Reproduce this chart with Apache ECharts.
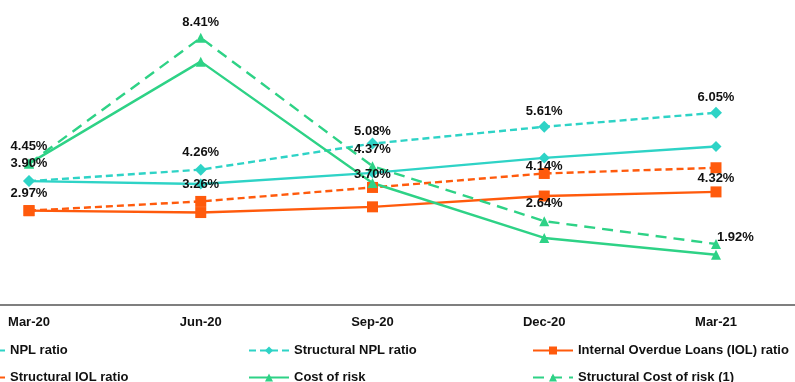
<!DOCTYPE html>
<html>
<head>
<meta charset="utf-8">
<script src="https://cdn.jsdelivr.net/npm/echarts@6/dist/echarts.min.js"></script>
<style>
  html, body { margin: 0; padding: 0; background: #ffffff; }
  #chart { width: 795px; height: 382px; }
</style>
</head>
<body>
<div id="chart"></div>
<script>
// Quarter-end reporting dates
const categories = ['Mar-20', 'Jun-20', 'Sep-20', 'Dec-20', 'Mar-21'];

// Ratios in percent
const nplRatio = [3.90, 3.81, 4.16, 4.63, 4.99];
const structuralNplRatio = [3.90, 4.26, 5.08, 5.61, 6.05];
const iolRatio = [2.97, 2.91, 3.09, 3.43, 3.56];
const structuralIolRatio = [2.97, 3.26, 3.70, 4.14, 4.32];
const costOfRisk = [4.45, 7.66, 3.84, 2.11, 1.58];
const structuralCostOfRisk = [4.45, 8.41, 4.37, 2.64, 1.92];

const TEAL = '#2ED3C6';
const ORANGE = '#FF5A0C';
const GREEN = '#2ED286';
const FONT = '"Liberation Sans", Arial, sans-serif';

const labelBase = {
  show: true,
  color: '#111111',
  fontFamily: FONT,
  fontWeight: 'bold',
  fontSize: 13,
  formatter: p => p.value.toFixed(2) + '%'
};

// Per-point label placement for the labelled series
function labelled(values, placements) {
  return values.map((v, i) => {
    const pl = placements[i];
    if (!pl) return { value: v, label: { show: false } };
    return { value: v, label: Object.assign({}, labelBase, pl) };
  });
}

const nplLabels = [
  { position: 'top', distance: 5 },
  { position: 'top', distance: 5 },
  { position: 'top', distance: 0 },
  { position: 'top', distance: 3 },
  { position: 'top', distance: 3 }
];
const iolLabels = [
  { position: 'top', distance: 5 },
  { position: 'top', distance: 5 },
  { position: 'top', distance: 1 },
  { position: 'top', distance: -5 },
  { position: 'bottom', distance: -1 }
];
const corLabels = [
  { position: 'top', distance: 6 },
  { position: 'top', distance: 4 },
  { position: 'top', distance: 5 },
  { position: 'top', distance: 6 },
  { position: 'right', distance: 0, offset: [-4, -7] }
];

function lineSeries(name, data, color, symbol, symbolSize, dashed) {
  return {
    name: name,
    type: 'line',
    xAxisIndex: 0,
    yAxisIndex: 0,
    data: data,
    symbol: symbol,
    symbolSize: symbolSize,
    showSymbol: true,
    itemStyle: { color: color },
    lineStyle: { color: color, width: 2.4, type: dashed || 'solid' },
    label: { show: false },
    emphasis: { disabled: true },
    animation: false
  };
}

const legendText = {
  color: '#111111',
  fontFamily: FONT,
  fontWeight: 'bold',
  fontSize: 13
};
function legendItem(name, left, top) {
  return {
    data: [name],
    left: left,
    top: top,
    itemWidth: 40,
    itemHeight: 10,
    itemGap: 0,
    padding: 0,
    textStyle: legendText,
    selectedMode: false
  };
}

const chart = echarts.init(document.getElementById('chart'), null, { renderer: 'canvas' });
chart.setOption({
  backgroundColor: '#ffffff',
  animation: false,
  grid: [
    // plotting area, first and last quarter sitting on its edges
    { left: 29, right: 79, top: 0, bottom: 77, containLabel: false },
    // full-width baseline under the plot
    { left: 0, right: 0, top: 0, bottom: 77, containLabel: false }
  ],
  xAxis: [
    {
      type: 'category',
      gridIndex: 0,
      data: categories,
      boundaryGap: false,
      axisLine: { show: false },
      axisTick: { show: false },
      axisLabel: {
        color: '#111111',
        fontFamily: FONT,
        fontWeight: 'bold',
        fontSize: 13,
        margin: 11
      },
      splitLine: { show: false }
    },
    {
      type: 'category',
      gridIndex: 1,
      data: categories,
      axisLine: { show: true, lineStyle: { color: '#7f7f7f', width: 2 } },
      axisTick: { show: false },
      axisLabel: { show: false },
      splitLine: { show: false }
    }
  ],
  yAxis: [
    { type: 'value', gridIndex: 0, min: 0, max: 9.6, show: false, splitLine: { show: false } },
    { type: 'value', gridIndex: 1, min: 0, max: 9.6, show: false, splitLine: { show: false } }
  ],
  legend: [
    legendItem('NPL ratio', -36, 344),
    legendItem('Structural NPL ratio', 248, 344),
    legendItem('Internal Overdue Loans (IOL) ratio', 532, 344),
    legendItem('Structural IOL ratio', -36, 371),
    legendItem('Cost of risk', 248, 371),
    legendItem('Structural Cost of risk (1)', 532, 371)
  ],
  series: [
    lineSeries('NPL ratio', nplRatio, TEAL, 'diamond', 11),
    lineSeries('Structural NPL ratio', labelled(structuralNplRatio, nplLabels), TEAL, 'diamond', 12, [7, 4]),
    lineSeries('Internal Overdue Loans (IOL) ratio', iolRatio, ORANGE, 'rect', 11),
    lineSeries('Structural IOL ratio', labelled(structuralIolRatio, iolLabels), ORANGE, 'rect', 11, [7, 4]),
    lineSeries('Cost of risk', costOfRisk, GREEN, 'triangle', 10),
    lineSeries('Structural Cost of risk (1)', labelled(structuralCostOfRisk, corLabels), GREEN, 'triangle', 10, [11, 7])
  ]
});
</script>
</body>
</html>
